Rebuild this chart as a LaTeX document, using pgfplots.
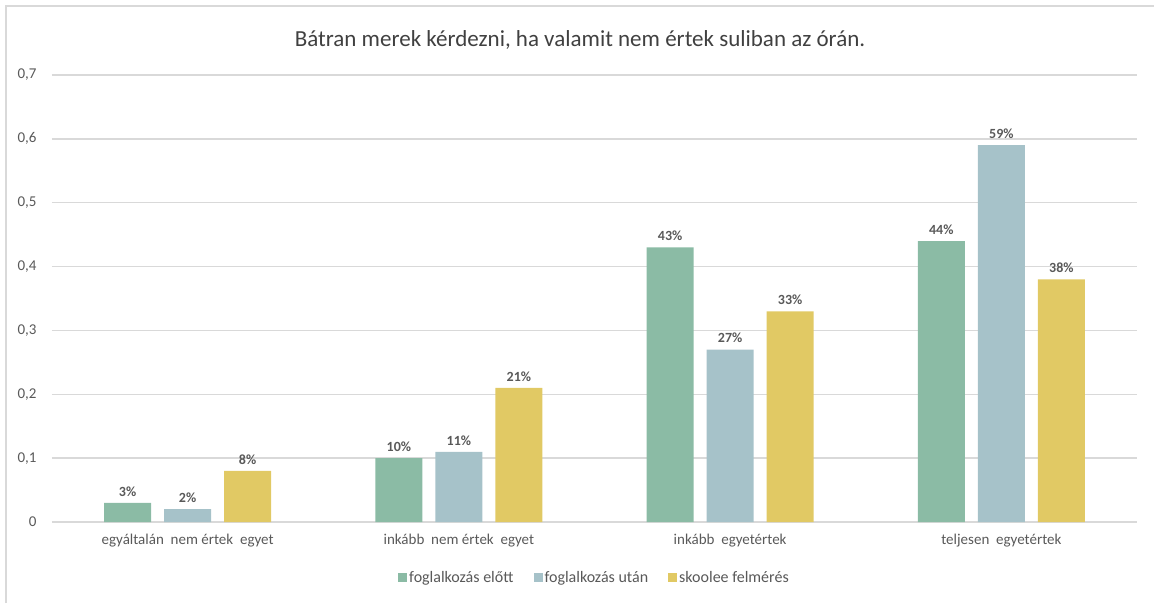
\documentclass[border=0pt]{standalone}
\usepackage{pgfplots}
\pgfplotsset{compat=1.18}
\usepackage{fontspec}
\setmainfont{Carlito}
\definecolor{cgreen}{HTML}{8BBBA5}
\definecolor{cblue}{HTML}{A6C2C9}
\definecolor{cyellow}{HTML}{E1C964}
\definecolor{cgrid}{HTML}{D9D9D9}
\definecolor{ctext}{HTML}{595959}
\definecolor{ctitle}{HTML}{404040}
\begin{document}
\begin{tikzpicture}[x=1pt,y=1pt]
\path[use as bounding box] (0,0) rectangle (1154,603);
\draw[cgrid, line width=1.5pt] (6,0) -- (6,597) -- (1154,597);
\node[font=\fontsize{23}{27}\selectfont, text=ctitle] at (580,563) {Bátran merek kérdezni, ha valamit nem értek suliban az órán.};
\begin{axis}[
  at={(52pt,81pt)}, anchor=south west,
  width=1085pt, height=447pt, scale only axis,
  ybar=13pt, bar width=47pt,
  xmin=-0.5, xmax=3.5, ymin=0, ymax=0.7,
  xtick={0,1,2,3},
  xticklabels={egyáltalán\ \ nem értek\ \ egyet, inkább\ \ nem értek\ \ egyet, inkább\ \ egyetértek, teljesen\ \ egyetértek},
  ytick={0,0.1,0.2,0.3,0.4,0.5,0.6,0.7},
  yticklabels={{0},{0,1},{0,2},{0,3},{0,4},{0,5},{0,6},{0,7}},
  major tick length=0pt,
  ymajorgrids, grid style={cgrid, line width=1.5pt},
  axis x line*=bottom,
  x axis line style={draw=cgrid, line width=1.5pt},
  axis y line*=left,
  y axis line style={draw=none},
  ticklabel style={font=\fontsize{15}{18}\selectfont, text=ctext},
  xticklabel style={yshift=-9pt},
  yticklabel style={anchor=east, xshift=-12pt},
  point meta=y*100,
  nodes near coords={\pgfmathprintnumber[fixed,precision=0,assume math mode=true]{\pgfplotspointmeta}\%},
  nodes near coords style={font=\fontsize{14}{16}\selectfont\bfseries, text=ctext, yshift=3pt},
  legend style={draw=none, at={(0.5,-0.125)}, anchor=center, font=\fontsize{16}{19}\selectfont, text=ctext, /tikz/every even column/.append style={column sep=18pt}},
  legend columns=3,
  legend image code/.code={\fill[#1] (0pt,-4.5pt) rectangle (9pt,4.5pt);},
  clip=false,
]
\addplot[fill=cgreen, draw=none] coordinates {(0,0.03) (1,0.10) (2,0.43) (3,0.44)};
\addplot[fill=cblue, draw=none] coordinates {(0,0.02) (1,0.11) (2,0.27) (3,0.59)};
\addplot[fill=cyellow, draw=none] coordinates {(0,0.08) (1,0.21) (2,0.33) (3,0.38)};
\legend{foglalkozás előtt, foglalkozás után, skoolee felmérés}
\end{axis}
\end{tikzpicture}
\end{document}
